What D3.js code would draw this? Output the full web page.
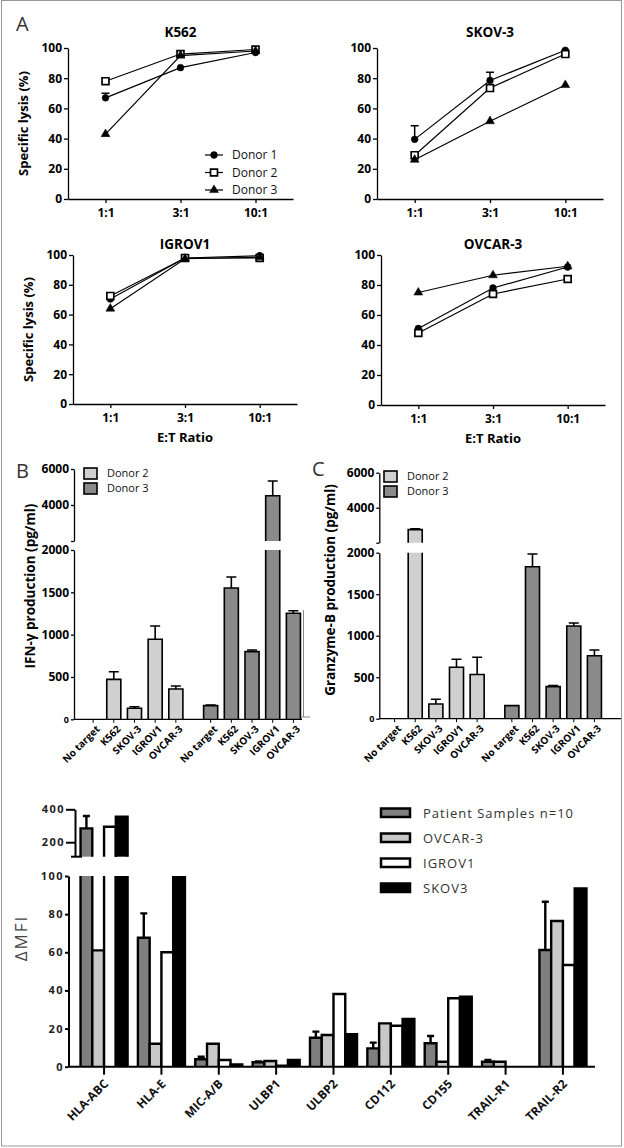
<!DOCTYPE html>
<html>
<head>
<meta charset="utf-8">
<script src="https://cdn.jsdelivr.net/npm/d3@7"></script>
<style>
body { margin: 0; background: #fff; }
svg { display: block; font-family: "Open Sans", sans-serif; }
</style>
</head>
<body>
<svg width="624" height="1148"></svg>
<script>
// ---- panel A: specific lysis ----
const ratios = ["1:1", "3:1", "10:1"];
const donors = ["Donor 1", "Donor 2", "Donor 3"];
const lysisK562 = [[67, 87, 97], [78, 96, 99], [43, 95, 98]];
const errK562 = [[3, 0, 0], [0, 0, 0], [0, 0, 0]];
const lysisSKOV3 = [[39.5, 78.5, 98.5], [29, 73.5, 96], [26, 51.5, 75.5]];
const errSKOV3 = [[9, 5.5, 0], [0, 0, 0], [0, 0, 0]];
const lysisIGROV1 = [[70.5, 98, 99.5], [72.5, 98, 98], [64, 97.5, 98.5]];
const errIGROV1 = [[0, 0, 0], [0, 0, 0], [0, 0, 0]];
const lysisOVCAR3 = [[51, 78, 92], [48, 74, 84], [75, 86.5, 92.5]];
const errOVCAR3 = [[0, 0, 0], [0, 0, 0], [0, 0, 0]];
const lysisTicks = [0, 20, 40, 60, 80, 100];

// ---- panels B, C: cytokine production ----
const targets = ["No target", "K562", "SKOV-3", "IGROV1", "OVCAR-3"];
const barDonors = ["Donor 2", "Donor 3"];
const ifnD2 = [0, 472, 130, 945, 358];
const ifnD2Err = [0, 90, 19, 157, 35];
const ifnD3 = [161, 1551, 799, 4517, 1252];
const ifnD3Err = [8, 130, 20, 816, 31];
const gzbD2 = [0, 2750, 177, 619, 533];
const gzbD2Err = [0, 50, 57, 97, 207];
const gzbD3 = [157, 1831, 386, 1117, 759];
const gzbD3Err = [0, 153, 12, 36, 69];
const lowTicks = [0, 500, 1000, 1500, 2000];
const highTicks = [2000, 4000, 6000];

// ---- bottom panel: ligand expression ----
const ligands = ["HLA-ABC", "HLA-E", "MIC-A/B", "ULBP1", "ULBP2", "CD112", "CD155", "TRAIL-R1", "TRAIL-R2"];
const cellLines = ["Patient Samples n=10", "OVCAR-3", "IGROV1", "SKOV3"];
const mfiPatient = [284, 67.6, 3.9, 2.3, 15.2, 9.6, 12.3, 2.6, 61.2];
const mfiPatientErr = [75, 12.8, 1.3, 0.5, 3.2, 3.0, 3.8, 0.9, 25.3];
const mfiOVCAR3 = [61, 12, 12, 3, 16.6, 22.7, 2.6, 2.6, 76.4];
const mfiIGROV1 = [294, 60, 3.5, 0.5, 38.1, 21.5, 35.9, 0, 53.3];
const mfiSKOV3 = [355, 105, 1.2, 3.5, 17.1, 25, 36.7, 0, 93.5];
const mfiLowTicks = [0, 20, 40, 60, 80, 100];
const mfiHighTicks = [200, 400];

const svg = d3.select("svg");
const FONT = "Open Sans";
const intFmt = d3.format("d");

// outer frame
svg.append("rect").attr("x", 1.5).attr("y", 0.5).attr("width", 620).attr("height", 1145.5)
    .attr("fill", "none").attr("stroke", "#999").attr("stroke-width", 1);
svg.append("path").attr("d", "M303.5,610V717H300M303.5,717H310")
    .attr("fill", "none").attr("stroke", "#888").attr("stroke-width", 1);

function styleAxis(a, size, weight, spacing) {
    a.attr("font-family", FONT).attr("font-size", size).attr("font-weight", weight);
    a.selectAll("text").attr("fill", "#000");
    if (spacing) a.selectAll("text").attr("letter-spacing", spacing);
}

function letter(txt, x, y) {
    svg.append("text").attr("x", x).attr("y", y).text(txt)
        .attr("font-size", 20).attr("fill", "#333").attr("font-family", FONT);
}

// ---------- line panels ----------
const symbolTypes = [d3.symbolCircle, d3.symbolSquare, d3.symbolTriangle];
const symbolSizes = [36, 48, 34];
const symbolFills = ["#000", "#fff", "#000"];

function marker(g, i, x, y) {
    g.append("path")
        .attr("d", d3.symbol().type(symbolTypes[i]).size(symbolSizes[i])())
        .attr("transform", `translate(${x},${y})`)
        .attr("fill", symbolFills[i])
        .attr("stroke", "#000")
        .attr("stroke-width", i == 1 ? 1.7 : 0.5);
}

function linePanel(p) {
    const g = svg.append("g");
    const x = d3.scalePoint().domain(ratios).range([p.x0, p.x1]).padding(0.5);
    const y = d3.scaleLinear().domain([0, 100]).range([p.yb, p.yt]);

    const ya = g.append("g").attr("transform", `translate(${p.x0},0)`)
        .call(d3.axisLeft(y).tickValues(lysisTicks).tickSize(4).tickSizeOuter(0).tickPadding(2));
    const xa = g.append("g").attr("transform", `translate(0,${p.yb})`)
        .call(d3.axisBottom(x).tickSize(4).tickSizeOuter(0).tickPadding(5));
    [ya, xa].forEach(a => {
        styleAxis(a, 12, "bold");
        a.selectAll("path, line").attr("stroke-width", 1.3);
    });

    const line = d3.line().x((d, j) => x(ratios[j])).y(d => y(d));
    p.data.forEach((vals, i) => {
        g.append("path").attr("d", line(vals)).attr("fill", "none")
            .attr("stroke", "#000").attr("stroke-width", 1.2);
    });
    p.err.forEach((errs, i) => {
        errs.forEach((e, j) => {
            if (e <= 0) return;
            const cx = x(ratios[j]);
            const top = y(p.data[i][j] + e);
            g.append("path").attr("d", `M${cx},${y(p.data[i][j])}V${top}M${cx - 4},${top}H${cx + 4}`)
                .attr("stroke", "#000").attr("stroke-width", 1.5).attr("fill", "none");
        });
    });
    p.data.forEach((vals, i) => {
        vals.forEach((v, j) => marker(g, i, x(ratios[j]), y(v)));
    });

    g.append("text").attr("x", x(ratios[1])).attr("y", p.titleY)
        .attr("text-anchor", "middle").attr("font-weight", "bold").attr("font-size", 13.5)
        .text(p.title);

    if (p.ylab) {
        g.append("text")
            .attr("transform", `translate(${p.x0 - 40},${(p.yt + p.yb) / 2}) rotate(-90)`)
            .attr("text-anchor", "middle").attr("font-weight", "bold").attr("font-size", 13)
            .text("Specific lysis (%)");
    }
    if (p.xlab) {
        g.append("text").attr("x", x(ratios[1])).attr("y", p.yb + 38)
            .attr("text-anchor", "middle").attr("font-weight", "bold").attr("font-size", 13)
            .text("E:T Ratio");
    }
    if (p.legend) {
        donors.forEach((d, i) => {
            const ly = 155 + i * 17.5;
            g.append("line").attr("x1", 205).attr("x2", 223).attr("y1", ly).attr("y2", ly)
                .attr("stroke", "#000").attr("stroke-width", 1.2);
            marker(g, i, 214, ly);
            g.append("text").attr("x", 232).attr("y", ly).attr("dy", "0.35em")
                .attr("font-size", 12).attr("fill", "#111").text(d);
        });
    }
}

letter("A", 16, 31);
linePanel({ x0: 68, x1: 293, yt: 48, yb: 199, title: "K562", titleY: 37,
    data: lysisK562, err: errK562, ylab: true, legend: true });
linePanel({ x0: 377, x1: 603, yt: 48, yb: 199, title: "SKOV-3", titleY: 37,
    data: lysisSKOV3, err: errSKOV3 });
linePanel({ x0: 73, x1: 297, yt: 255, yb: 404, title: "IGROV1", titleY: 249,
    data: lysisIGROV1, err: errIGROV1, ylab: true, xlab: true });
linePanel({ x0: 381, x1: 605, yt: 255, yb: 405, title: "OVCAR-3", titleY: 249,
    data: lysisOVCAR3, err: errOVCAR3, xlab: true });

// ---------- broken-axis bar panels ----------
const donorFills = ["#d0d0d0", "#8a8a8a"];

function barOutline(x, w, yBase, yTop, closed) {
    return closed ? `M${x},${yBase}V${yTop}H${x + w}V${yBase}`
                  : `M${x},${yBase}V${yTop}M${x + w},${yTop}V${yBase}`;
}

function barPanel(p) {
    const g = svg.append("g");
    const outer = d3.scaleBand().domain(barDonors).range(p.groups).paddingInner(0.12);
    const inner = d3.scaleBand().domain(targets).range([0, outer.bandwidth()])
        .paddingInner(0.32).paddingOuter(0.16);
    const yLo = d3.scaleLinear().domain([0, 2000]).range([p.y0, p.y2000]);
    const yHi = d3.scaleLinear().domain([2000, 6000]).range([p.yBreak, p.y6000]);
    const w = inner.bandwidth();

    const series = [[p.d2, p.d2e], [p.d3, p.d3e]];
    series.forEach(([vals, errs], k) => {
        vals.forEach((v, j) => {
            if (v <= 0) return;
            const bx = outer(barDonors[k]) + inner(targets[j]);
            const lo = yLo(Math.min(v, 2000));
            g.append("rect").attr("x", bx).attr("y", lo).attr("width", w).attr("height", p.y0 - lo)
                .attr("fill", donorFills[k]);
            g.append("path").attr("d", barOutline(bx, w, p.y0, lo, v <= 2000))
                .attr("fill", "none").attr("stroke", "#000").attr("stroke-width", 1.6);
            let topY = lo;
            let sc = yLo;
            if (v > 2000) {
                const hi = yHi(v);
                g.append("rect").attr("x", bx).attr("y", hi).attr("width", w).attr("height", p.yBreak - hi)
                    .attr("fill", donorFills[k]);
                g.append("path").attr("d", barOutline(bx, w, p.yBreak, hi, true))
                    .attr("fill", "none").attr("stroke", "#000").attr("stroke-width", 1.6);
                topY = hi;
                sc = yHi;
            }
            const e = errs[j];
            if (e > 0) {
                const cx = bx + w / 2;
                const ey = sc(v + e);
                g.append("path").attr("d", `M${cx},${topY}V${ey}M${cx - 5},${ey}H${cx + 5}`)
                    .attr("fill", "none").attr("stroke", "#000").attr("stroke-width", 1.6);
            }
        });
    });

    // axes
    const ya = g.append("g").attr("transform", `translate(${p.x0},0)`)
        .call(d3.axisLeft(yLo).tickValues(lowTicks).tickFormat(intFmt)
            .tickSize(3).tickSizeOuter(0).tickPadding(2));
    const yh = g.append("g").attr("transform", `translate(${p.x0},0)`)
        .call(d3.axisLeft(yHi).tickValues(highTicks).tickFormat(intFmt)
            .tickSize(3).tickSizeOuter(0).tickPadding(2));
    [ya, yh].forEach(a => {
        styleAxis(a, 12, "bold");
        a.selectAll("path, line").attr("stroke-width", 1.3);
    });
    ya.selectAll(".tick text").filter(d => d == 0).attr("font-size", 9);
    yh.selectAll(".tick text").filter(d => d == 2000).remove();

    g.append("line").attr("x1", p.x0).attr("x2", p.x1).attr("y1", p.y0).attr("y2", p.y0)
        .attr("stroke", "#000").attr("stroke-width", 1.3);
    barDonors.forEach(dn => {
        targets.forEach(t => {
            const cx = outer(dn) + inner(t) + w / 2;
            g.append("line").attr("x1", cx).attr("x2", cx).attr("y1", p.y0).attr("y2", p.y0 + 3.5)
                .attr("stroke", "#000").attr("stroke-width", 1);
            g.append("text")
                .attr("transform", `translate(${cx + 5},${p.y0 + 8}) rotate(-45)`)
                .attr("text-anchor", "end").attr("dy", "0.35em")
                .attr("font-size", 10).attr("font-weight", "bold").text(t);
        });
    });

    g.append("text")
        .attr("transform", `translate(${p.labX},${p.labY}) rotate(-90)`)
        .attr("text-anchor", "middle").attr("font-weight", "bold").attr("font-size", 13.5)
        .text(p.label);

    barDonors.forEach((d, i) => {
        g.append("rect").attr("x", p.legX).attr("y", p.legY + i * 15).attr("width", 13).attr("height", 11)
            .attr("fill", donorFills[i]).attr("stroke", "#000").attr("stroke-width", 1.6);
        g.append("text").attr("x", p.legX + 23).attr("y", p.legY + i * 15 + 5.5).attr("dy", "0.35em")
            .attr("font-size", 11).attr("fill", "#111").text(d);
    });
}

letter("B", 16, 478);
barPanel({ x0: 74, x1: 302, y0: 719.3, y2000: 550, yBreak: 541, y6000: 469,
    groups: [82.75, 303.75], d2: ifnD2, d2e: ifnD2Err, d3: ifnD3, d3e: ifnD3Err,
    label: "IFN-γ production (pg/ml)", labX: 35, labY: 586, legX: 84, legY: 468 });
letter("C", 312, 476);
barPanel({ x0: 379.3, x1: 621, y0: 718.7, y2000: 552.7, yBreak: 542.7, y6000: 472.7,
    groups: [384.25, 604.75], d2: gzbD2, d2e: gzbD2Err, d3: gzbD3, d3e: gzbD3Err,
    label: "Granzyme-B production (pg/ml)", labX: 335, labY: 590, legX: 384, legY: 471 });

// ---------- bottom panel ----------
const lineFills = ["#7f7f7f", "#c8c8c8", "#ffffff", "#000000"];
const mfiSeries = [mfiPatient, mfiOVCAR3, mfiIGROV1, mfiSKOV3];
{
    const g = svg.append("g");
    const y0 = 1066.7;
    const yBreak = 856.7;
    const outer = d3.scaleBand().domain(ligands).range([68.5, 598.5]).paddingInner(0.18).paddingOuter(0.21);
    const inner = d3.scaleBand().domain(cellLines).range([0, outer.bandwidth()]);
    const yLo = d3.scaleLinear().domain([0, 100]).range([y0, 876]);
    const yHi = d3.scaleLinear().domain([112, 400]).range([yBreak, 809.3]);
    const w = inner.bandwidth();

    mfiSeries.forEach((vals, k) => {
        vals.forEach((v, j) => {
            if (v <= 0) return;
            const bx = outer(ligands[j]) + inner(cellLines[k]);
            const lo = yLo(Math.min(v, 100));
            g.append("rect").attr("x", bx).attr("y", lo).attr("width", w).attr("height", y0 - lo)
                .attr("fill", lineFills[k]);
            g.append("path").attr("d", barOutline(bx, w, y0, lo, v <= 100))
                .attr("fill", "none").attr("stroke", "#000").attr("stroke-width", 2.4);
            let topY = lo, sc = yLo;
            if (v > 112) {
                const hi = yHi(v);
                g.append("rect").attr("x", bx).attr("y", hi).attr("width", w).attr("height", yBreak - hi)
                    .attr("fill", lineFills[k]);
                g.append("path").attr("d", barOutline(bx, w, yBreak, hi, true))
                    .attr("fill", "none").attr("stroke", "#000").attr("stroke-width", 2.4);
                topY = hi;
                sc = yHi;
            }
            if (k == 0 && mfiPatientErr[j] > 0) {
                const cx = bx + w / 2;
                const ey = sc(v + mfiPatientErr[j]);
                g.append("path").attr("d", `M${cx},${topY}V${ey}M${cx - 3.5},${ey}H${cx + 3.5}`)
                    .attr("fill", "none").attr("stroke", "#000").attr("stroke-width", 2.4);
            }
        });
    });

    const ya = g.append("g").attr("transform", "translate(68.5,0)")
        .call(d3.axisLeft(yLo).tickValues(mfiLowTicks).tickSize(3.5).tickSizeOuter(0).tickPadding(1));
    const yh = g.append("g").attr("transform", "translate(75,0)")
        .call(d3.axisLeft(yHi).tickValues(mfiHighTicks).tickSize(9).tickSizeOuter(0).tickPadding(1));
    [ya, yh].forEach(a => {
        styleAxis(a, 11, "bold", 1.5);
        a.selectAll("text").attr("fill", "#222");
        a.selectAll("path, line").attr("stroke-width", 2);
    });
    g.append("line").attr("x1", 71).attr("x2", 82).attr("y1", yBreak).attr("y2", yBreak)
        .attr("stroke", "#000").attr("stroke-width", 2);

    g.append("line").attr("x1", 68.5).attr("x2", 595).attr("y1", y0).attr("y2", y0)
        .attr("stroke", "#000").attr("stroke-width", 2);
    ligands.forEach(l => {
        const cx = outer(l) + outer.bandwidth() / 2;
        g.append("line").attr("x1", cx).attr("x2", cx).attr("y1", y0).attr("y2", y0 + 8)
            .attr("stroke", "#000").attr("stroke-width", 2);
        g.append("text")
            .attr("transform", `translate(${cx + 2},${y0 + 15}) rotate(-45)`)
            .attr("text-anchor", "end").attr("dy", "0.35em")
            .attr("font-size", 12).attr("font-weight", "bold").attr("fill", "#111").text(l);
    });

    g.append("text")
        .attr("transform", "translate(27,938) rotate(-90)")
        .attr("text-anchor", "middle").attr("font-size", 17).attr("letter-spacing", 2)
        .attr("fill", "#444").text("ΔMFI");

    cellLines.forEach((c, i) => {
        g.append("rect").attr("x", 381).attr("y", 808.5 + i * 25).attr("width", 29).attr("height", 8.5)
            .attr("fill", lineFills[i]).attr("stroke", "#000").attr("stroke-width", 2.5);
        g.append("text").attr("x", 423).attr("y", 813 + i * 25).attr("dy", "0.35em")
            .attr("font-size", 13).attr("letter-spacing", 1).attr("fill", "#333").text(c);
    });
}
</script>
</body>
</html>
